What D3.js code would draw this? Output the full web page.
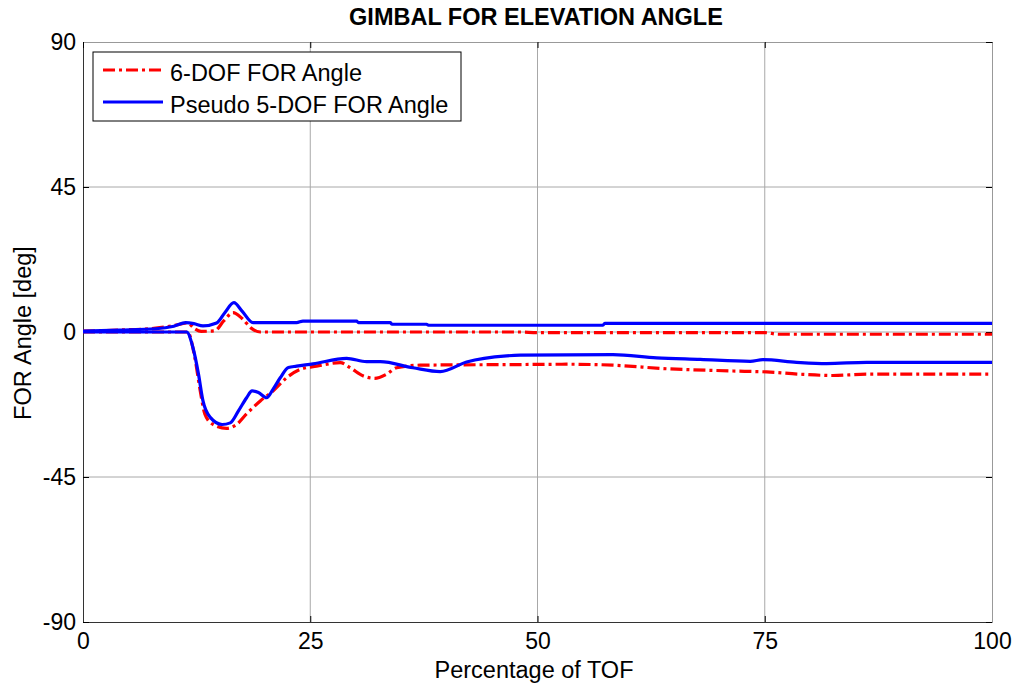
<!DOCTYPE html>
<html>
<head>
<meta charset="utf-8">
<script src="https://cdn.jsdelivr.net/npm/d3@7"></script>
<style>
  body { margin: 0; background: #fff; }
  text { font-family: "Liberation Sans", Arial, sans-serif; fill: #000; }
</style>
</head>
<body>
<div class="chart"></div>
<script>
// tick labels
const xTicks = [0, 25, 50, 75, 100];
const yTicks = [-90, -45, 0, 45, 90];

// 6-DOF, upper and lower branch
const x6Up = [0, 4, 8, 10, 11.5, 12.3, 13, 14.5, 15.5, 16.5, 17.5, 18.5, 19.5, 22, 48, 50, 75, 76.5, 100];
const y6Up = [0.3, 0.6, 1.2, 2.0, 2.8, 1.0, 0.2, 0.4, 3.5, 6.0, 4.2, 1.2, 0, 0, 0, -0.2, -0.2, -0.7, -0.7];
const x6Lo = [0, 11.5, 12.3, 12.9, 13.4, 14.3, 15.8, 16.9, 18, 19.5, 20.9, 22.4, 23.9, 25.7, 28.3, 29.4, 30.8, 32.1, 33.4, 34.5, 37.1, 48, 53.2, 58.3, 64.2, 71.5, 75.2, 78.9, 82.5, 86.2, 100];
const y6Lo = [0, 0, -7.9, -18.3, -25.4, -28.7, -29.9, -28.7, -25.4, -21.4, -18.3, -14.2, -11.6, -10.6, -9.5, -11.1, -13.6, -14.4, -13.1, -11.1, -10.3, -10.1, -10.0, -10.3, -11.4, -12.1, -12.4, -13.1, -13.5, -13.1, -13.1];

// pseudo 5-DOF, upper and lower branch
const x5Up = [0, 4, 8, 10, 11.3, 12.2, 13.2, 14.7, 15.6, 16.6, 17.5, 18.7, 23.5, 24.2, 30.1, 30.3, 33.8, 34, 37.8, 38, 57.2, 57.4, 100];
const y5Up = [0.3, 0.6, 1.0, 1.8, 2.9, 2.6, 1.9, 2.8, 6.0, 9.1, 6.5, 2.9, 2.9, 3.4, 3.4, 2.9, 2.9, 2.4, 2.4, 2.1, 2.1, 2.7, 2.7];
const x5Lo = [0, 11.4, 12.1, 12.7, 13.2, 14, 15.3, 16.2, 17.1, 18, 18.6, 19.3, 20.2, 20.9, 21.7, 22.6, 23.5, 25.3, 29, 31.2, 32.7, 36.3, 39.3, 42.2, 46.6, 48.1, 58.3, 63.1, 67.9, 73.4, 74.8, 78.5, 81.8, 86.2, 100];
const y5Lo = [0, 0, -4.9, -13, -21.4, -26.5, -28.7, -28.2, -24.5, -20.4, -18.3, -18.8, -20.4, -17.8, -14.2, -11.0, -10.6, -9.9, -8.2, -9.2, -9.2, -11.1, -12.3, -9.3, -7.4, -7.2, -7.0, -8.0, -8.5, -9.1, -8.6, -9.4, -9.8, -9.4, -9.4];

const width = 1020, height = 686;
const plotLeft = 83, plotRight = 992, plotTop = 42, plotBottom = 622;

const svg = d3.select(".chart")
    .append("svg")
    .attr("width", width)
    .attr("height", height);

const x = d3.scaleLinear().domain([0, 100]).range([plotLeft, plotRight]);
const y = d3.scaleLinear().domain([-90, 90]).range([plotBottom, plotTop]);

// grid
svg.append("g")
    .selectAll("line")
    .data(xTicks.slice(1, -1))
    .enter().append("line")
    .attr("x1", d => x(d)).attr("x2", d => x(d))
    .attr("y1", plotTop).attr("y2", plotBottom)
    .attr("stroke", "#a8a8a8").attr("stroke-width", 1);
svg.append("g")
    .selectAll("line")
    .data(yTicks.slice(1, -1))
    .enter().append("line")
    .attr("x1", plotLeft).attr("x2", plotRight)
    .attr("y1", d => y(d)).attr("y2", d => y(d))
    .attr("stroke", "#a8a8a8").attr("stroke-width", 1);

// axes
const fmt = d => d < 0 ? "-" + Math.abs(d) : d;
svg.append("g")
    .attr("transform", `translate(0,${plotBottom})`)
    .call(d3.axisBottom(x).tickValues(xTicks).tickSizeInner(-6).tickSizeOuter(0).tickPadding(11).tickFormat(fmt))
    .call(g => g.select(".domain").attr("stroke", "#333"))
    .call(g => g.selectAll("text").attr("font-size", 23).attr("font-family", "Liberation Sans, Arial, sans-serif"));
svg.append("g")
    .attr("transform", `translate(${plotLeft},0)`)
    .call(d3.axisLeft(y).tickValues(yTicks).tickSizeInner(-6).tickSizeOuter(0).tickPadding(7).tickFormat(fmt))
    .call(g => g.select(".domain").attr("stroke", "#333"))
    .call(g => g.selectAll("text").attr("font-size", 23).attr("font-family", "Liberation Sans, Arial, sans-serif"));
svg.append("g")
    .attr("transform", `translate(0,${plotTop})`)
    .call(d3.axisTop(x).tickValues(xTicks).tickSizeInner(-6).tickSizeOuter(0).tickFormat(""))
    .call(g => g.select(".domain").attr("stroke", "#999"));
svg.append("g")
    .attr("transform", `translate(${plotRight},0)`)
    .call(d3.axisRight(y).tickValues(yTicks).tickSizeInner(-6).tickSizeOuter(0).tickFormat(""))
    .call(g => g.select(".domain").attr("stroke", "#999"));

// lines
const line = d3.line()
    .x(d => x(d[0]))
    .y(d => y(d[1]))
    .curve(d3.curveMonotoneX);

const series = [
    {xs: x6Up, ys: y6Up, color: "#ff0000", dash: "12,4,3,4"},
    {xs: x6Lo, ys: y6Lo, color: "#ff0000", dash: "12,4,3,4"},
    {xs: x5Up, ys: y5Up, color: "#0000ff", dash: null},
    {xs: x5Lo, ys: y5Lo, color: "#0000ff", dash: null}
];

svg.append("g")
    .selectAll("path")
    .data(series)
    .enter().append("path")
    .attr("d", s => line(s.xs.map((v, i) => [v, s.ys[i]])))
    .attr("fill", "none")
    .attr("stroke", s => s.color)
    .attr("stroke-width", 3.2)
    .attr("stroke-dasharray", s => s.dash);

// legend
const legend = svg.append("g");
legend.append("rect")
    .attr("x", 93).attr("y", 52)
    .attr("width", 368).attr("height", 69)
    .attr("fill", "#fff").attr("stroke", "#000").attr("stroke-width", 1);

const legendItems = [
    {label: "6-DOF FOR Angle", color: "#ff0000", dash: "12,4,3,4"},
    {label: "Pseudo 5-DOF FOR Angle", color: "#0000ff", dash: null}
];
legend.selectAll("line")
    .data(legendItems)
    .enter().append("line")
    .attr("x1", 103).attr("x2", 163)
    .attr("y1", (d, i) => 70 + i * 32)
    .attr("y2", (d, i) => 70 + i * 32)
    .attr("stroke", d => d.color)
    .attr("stroke-width", 3.2)
    .attr("stroke-dasharray", d => d.dash);
legend.selectAll("text")
    .data(legendItems)
    .enter().append("text")
    .attr("x", 170)
    .attr("y", (d, i) => 81 + i * 32)
    .attr("font-size", 23.5)
    .text(d => d.label);

// titles
svg.append("text")
    .attr("x", 536).attr("y", 25)
    .attr("text-anchor", "middle")
    .attr("font-size", 23.5)
    .attr("font-weight", "bold")
    .text("GIMBAL FOR ELEVATION ANGLE");

svg.append("text")
    .attr("x", 534).attr("y", 678)
    .attr("text-anchor", "middle")
    .attr("font-size", 23.5)
    .text("Percentage of TOF");

svg.append("text")
    .attr("transform", "translate(31,333) rotate(-90)")
    .attr("text-anchor", "middle")
    .attr("font-size", 23.5)
    .text("FOR Angle [deg]");
</script>
</body>
</html>
